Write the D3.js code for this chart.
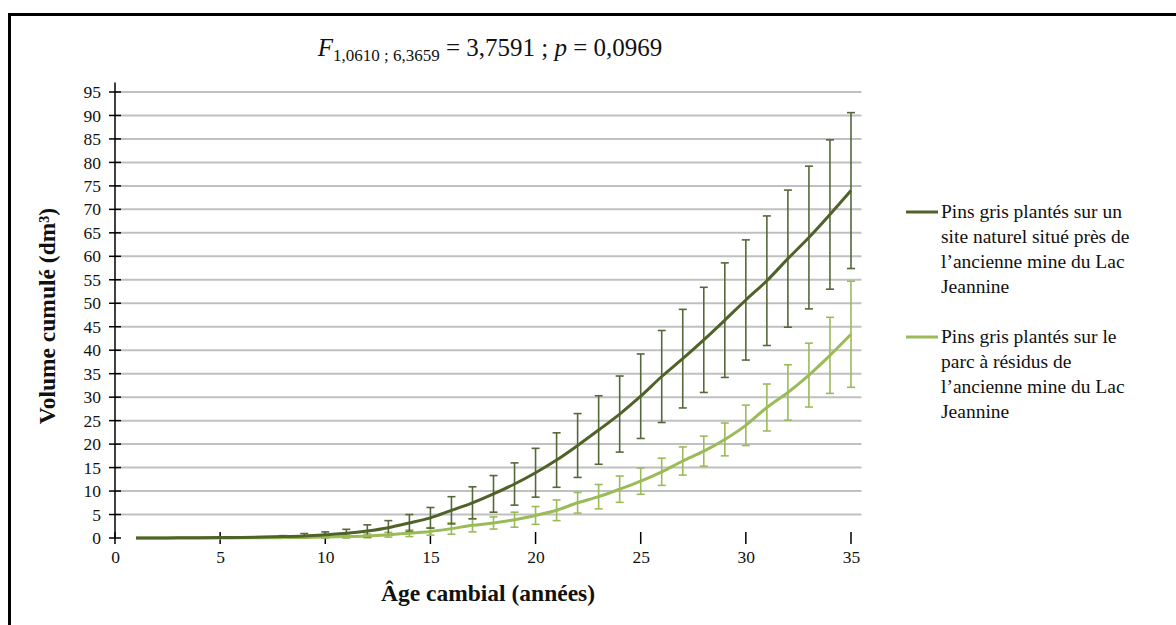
<!DOCTYPE html>
<html>
<head>
<meta charset="utf-8">
<script src="https://cdn.jsdelivr.net/npm/d3@7"></script>
<style>
  body { margin: 0; background: #fff; }
</style>
</head>
<body>
<svg id="chart" width="1176" height="625"></svg>
<script>
// ---- Data ----
const ages = d3.range(1, 36);
const naturalMean = [0.01, 0.02, 0.03, 0.05, 0.08, 0.12, 0.2, 0.3, 0.45, 0.7,
  1.0, 1.5, 2.2, 3.2, 4.3, 5.9, 7.5, 9.4, 11.5, 13.9,
  16.6, 19.7, 23.0, 26.4, 30.2, 34.4, 38.2, 42.2, 46.4, 50.7,
  54.8, 59.5, 64.0, 68.9, 74.0];
const naturalErr = [0, 0, 0, 0, 0.02, 0.04, 0.08, 0.2, 0.5, 0.6,
  0.85, 1.3, 1.5, 1.8, 2.2, 2.9, 3.4, 3.9, 4.5, 5.2,
  5.8, 6.8, 7.3, 8.1, 9.0, 9.8, 10.5, 11.2, 12.2, 12.8,
  13.8, 14.6, 15.2, 15.9, 16.6];
const residueMean = [0, 0, 0.01, 0.01, 0.02, 0.03, 0.05, 0.08, 0.12, 0.2,
  0.3, 0.45, 0.7, 1.0, 1.4, 2.0, 2.7, 3.2, 3.9, 4.8,
  5.9, 7.5, 8.8, 10.4, 12.1, 14.1, 16.4, 18.5, 21.0, 24.0,
  27.8, 31.0, 34.7, 38.9, 43.4];
const residueErr = [0, 0, 0, 0, 0, 0.01, 0.02, 0.05, 0.08, 0.15,
  0.3, 0.4, 0.5, 0.7, 0.8, 1.2, 1.4, 1.3, 1.6, 1.9,
  2.2, 2.2, 2.6, 2.8, 2.8, 2.9, 3.0, 3.2, 3.5, 4.3,
  5.0, 5.9, 6.8, 8.1, 11.3];
const xTicks = [0, 5, 10, 15, 20, 25, 30, 35];
const yTicks = d3.range(0, 100, 5);
const seriesNames = [
  ["Pins gris plantés sur un", "site naturel situé près de", "l’ancienne mine du Lac", "Jeannine"],
  ["Pins gris plantés sur le", "parc à résidus de", "l’ancienne mine du Lac", "Jeannine"]
];
const xTitle = "Âge cambial (années)";
const yTitle = "Volume cumulé (dm³)";

// ---- Layout ----
const FONT = '"Liberation Serif", "Tinos", "Times New Roman", "DejaVu Serif", serif';
const svg = d3.select("#chart");
const colors = { dark: "#4f6228", darkErr: "#55683a", light: "#9bbb59", lightErr: "#9bbb59" };

// frame
svg.append("path")
  .attr("d", "M9.5,1300 V14.5 H1300")
  .attr("fill", "none").attr("stroke", "#000").attr("stroke-width", 3);

const x = d3.scaleLinear().domain([0, 35.5]).range([115, 861.5]);
const y = d3.scaleLinear().domain([0, 97]).range([538, 82.6]);

// gridlines
svg.append("g").selectAll("line").data(yTicks.filter(d => d > 0)).join("line")
  .attr("x1", x(0)).attr("x2", x(35.5))
  .attr("y1", d => y(d)).attr("y2", d => y(d))
  .attr("stroke", "#c0c0c0").attr("stroke-width", 2);

// axes
const yAxis = d3.axisLeft(y).tickValues(yTicks).tickSize(0).tickPadding(14);
const gy = svg.append("g").attr("transform", `translate(${x(0)},0)`).call(yAxis)
  .attr("font-family", FONT);
gy.select(".domain").remove();
gy.selectAll("text").attr("font-size", 17.5).attr("fill", "#111");
svg.append("g").selectAll("line").data(yTicks).join("line")
  .attr("x1", x(0) - 6).attr("x2", x(0) + 6)
  .attr("y1", d => y(d)).attr("y2", d => y(d))
  .attr("stroke", "#000").attr("stroke-width", 1.5);
svg.append("line").attr("x1", x(0)).attr("x2", x(0)).attr("y1", y(0)).attr("y2", y(97))
  .attr("stroke", "#000").attr("stroke-width", 1.5);

const xAxis = d3.axisBottom(x).tickValues(xTicks).tickSize(0).tickPadding(13);
const gx = svg.append("g").attr("transform", `translate(0,${y(0)})`).call(xAxis)
  .attr("font-family", FONT);
gx.select(".domain").remove();
gx.selectAll("text").attr("font-size", 17.5).attr("fill", "#111");
svg.append("g").selectAll("line").data(xTicks).join("line")
  .attr("x1", d => x(d)).attr("x2", d => x(d))
  .attr("y1", y(0) - 6).attr("y2", y(0) + 6)
  .attr("stroke", "#000").attr("stroke-width", 1.5);

// series
const series = [
  { mean: residueMean, err: residueErr, line: colors.light, errC: colors.lightErr },
  { mean: naturalMean, err: naturalErr, line: colors.dark, errC: colors.darkErr }
];
const lineGen = d3.line().x((d, i) => x(ages[i])).y(d => y(d)).curve(d3.curveCatmullRom.alpha(0.5));

series.forEach(s => {
  const pts = ages.map((a, i) => ({ a, m: s.mean[i], e: s.err[i] })).filter(p => p.e > 0.1);
  const g = svg.append("g");
  g.selectAll("line.v").data(pts).join("line").attr("class", "v")
    .attr("x1", d => x(d.a)).attr("x2", d => x(d.a))
    .attr("y1", d => y(d.m + d.e)).attr("y2", d => y(Math.max(0, d.m - d.e)))
    .attr("stroke", s.errC).attr("stroke-width", 1.6);
  g.selectAll("line.t").data(pts).join("line").attr("class", "t")
    .attr("x1", d => x(d.a) - 4).attr("x2", d => x(d.a) + 4)
    .attr("y1", d => y(d.m + d.e)).attr("y2", d => y(d.m + d.e))
    .attr("stroke", s.errC).attr("stroke-width", 1.6);
  g.selectAll("line.b").data(pts).join("line").attr("class", "b")
    .attr("x1", d => x(d.a) - 4).attr("x2", d => x(d.a) + 4)
    .attr("y1", d => y(Math.max(0, d.m - d.e))).attr("y2", d => y(Math.max(0, d.m - d.e)))
    .attr("stroke", s.errC).attr("stroke-width", 1.6);
});
series.forEach(s => {
  svg.append("path").datum(s.mean).attr("d", lineGen)
    .attr("fill", "none").attr("stroke", s.line).attr("stroke-width", 3);
});

// title
const t = svg.append("text").attr("x", 490).attr("y", 56).attr("text-anchor", "middle")
  .attr("font-family", FONT).attr("font-size", 25).attr("fill", "#111");
t.append("tspan").attr("font-style", "italic").text("F");
t.append("tspan").attr("font-size", 17).attr("dy", 5).text("1,0610 ; 6,3659");
t.append("tspan").attr("dy", -5).text(" = 3,7591 ; ");
t.append("tspan").attr("font-style", "italic").text("p");
t.append("tspan").text(" = 0,0969");

// axis titles
svg.append("text").attr("x", 488).attr("y", 601).attr("text-anchor", "middle")
  .attr("font-family", FONT).attr("font-size", 23.5).attr("font-weight", "bold").attr("fill", "#111").text(xTitle);
svg.append("text").attr("transform", "translate(55,316) rotate(-90)").attr("text-anchor", "middle")
  .attr("font-family", FONT).attr("font-size", 23.5).attr("font-weight", "bold").attr("fill", "#111").text(yTitle);

// legend
const legY = [212, 337];
[colors.dark, colors.light].forEach((c, k) => {
  svg.append("line").attr("x1", 906).attr("x2", 938).attr("y1", legY[k]).attr("y2", legY[k])
    .attr("stroke", c).attr("stroke-width", 3);
  const txt = svg.append("text").attr("x", 941).attr("y", legY[k] + 6)
    .attr("font-family", FONT).attr("font-size", 19.5).attr("fill", "#111");
  seriesNames[k].forEach((ln, i) => {
    txt.append("tspan").attr("x", 941).attr("dy", i === 0 ? 0 : 25).text(ln);
  });
});
</script>
</body>
</html>
